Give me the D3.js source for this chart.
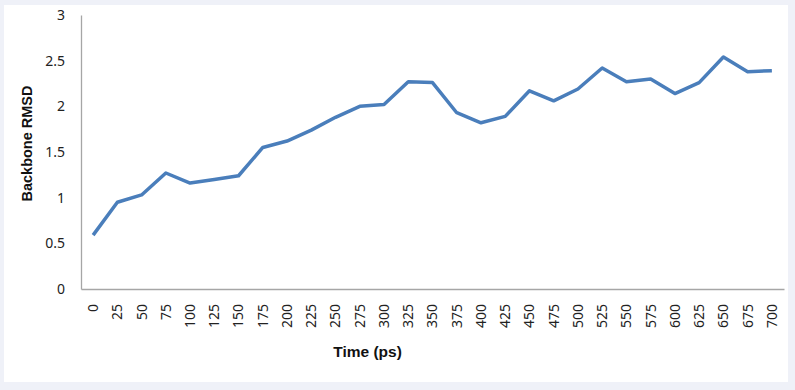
<!DOCTYPE html>
<html>
<head>
<meta charset="utf-8">
<script src="https://cdn.jsdelivr.net/npm/d3@7"></script>
<style>
  html, body { margin: 0; padding: 0; background: #eff1f8; }
  svg { display: block; }
</style>
</head>
<body>
<div id="chart"></div>
<script>
// time points (ps) and backbone RMSD
const times = [0, 25, 50, 75, 100, 125, 150, 175, 200, 225, 250, 275, 300, 325, 350,
               375, 400, 425, 450, 475, 500, 525, 550, 575, 600, 625, 650, 675, 700];
const rmsd = [0.59, 0.95, 1.03, 1.27, 1.16, 1.20, 1.24, 1.55, 1.62, 1.74, 1.88, 2.00, 2.02, 2.27, 2.26,
              1.93, 1.82, 1.89, 2.17, 2.06, 2.19, 2.42, 2.27, 2.30, 2.14, 2.26, 2.54, 2.38, 2.39];
const yTicks = [0, 0.5, 1, 1.5, 2, 2.5, 3];

const width = 795, height = 390;
const margin = {top: 15, right: 11, bottom: 101, left: 81};
const innerW = width - margin.left - margin.right;
const innerH = height - margin.top - margin.bottom;

const svg = d3.select("#chart").append("svg")
    .attr("width", width)
    .attr("height", height);

// white chart panel
svg.append("rect")
    .attr("x", 4).attr("y", 5)
    .attr("width", 784).attr("height", 377)
    .attr("fill", "#ffffff");

const g = svg.append("g")
    .attr("transform", "translate(" + margin.left + "," + margin.top + ")");

const x = d3.scaleBand().domain(times).range([0, innerW]);
const y = d3.scaleLinear().domain([0, 3]).range([innerH, 0]);

// y axis
const yAxis = g.append("g")
    .call(d3.axisLeft(y).tickValues(yTicks).tickSize(0).tickPadding(16).tickFormat(d3.format("")));
yAxis.select(".domain").attr("stroke", "#a6a6a6").attr("stroke-width", 1.3);
yAxis.selectAll("text")
    .attr("font-family", "'Noto Sans', sans-serif")
    .attr("font-size", 14)
    .attr("fill", "#222");

// x axis
const xAxis = g.append("g")
    .attr("transform", "translate(0," + innerH + ")")
    .call(d3.axisBottom(x).tickSize(0).tickPadding(0));
xAxis.select(".domain").attr("stroke", "#a6a6a6").attr("stroke-width", 1.3);
xAxis.selectAll("text")
    .attr("font-family", "'Noto Sans', sans-serif")
    .attr("font-size", 14)
    .attr("fill", "#222")
    .attr("text-anchor", "end")
    .attr("dy", "0.35em")
    .attr("transform", "translate(0,15) rotate(-90)");

// the line
const line = d3.line()
    .x((d, i) => x(times[i]) + x.bandwidth() / 2)
    .y(d => y(d));

g.append("path")
    .datum(rmsd)
    .attr("d", line)
    .attr("fill", "none")
    .attr("stroke", "#4a7ebb")
    .attr("stroke-width", 3.5)
    .attr("stroke-linejoin", "round");

// axis titles
svg.append("text")
    .attr("transform", "translate(32,143.5) rotate(-90)")
    .attr("text-anchor", "middle")
    .attr("font-family", "'Liberation Sans', Arial, sans-serif")
    .attr("font-weight", "bold")
    .attr("font-size", 14.5)
    .attr("fill", "#111")
    .text("Backbone RMSD");

svg.append("text")
    .attr("x", 367.5).attr("y", 357)
    .attr("text-anchor", "middle")
    .attr("font-family", "'Liberation Sans', Arial, sans-serif")
    .attr("font-weight", "bold")
    .attr("font-size", 15.5)
    .attr("fill", "#111")
    .text("Time (ps)");
</script>
</body>
</html>
